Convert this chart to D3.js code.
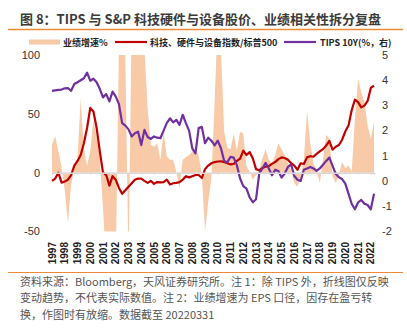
<!DOCTYPE html>
<html>
<head>
<meta charset="utf-8">
<script src="https://cdn.jsdelivr.net/npm/d3@7"></script>
<style>
  body { margin: 0; background: #fff; }
  text { font-family: "Noto Sans CJK SC", "Liberation Sans", sans-serif; }
  .num { font-family: "Liberation Sans", sans-serif; }
</style>
</head>
<body>
<script>
// quarterly points, 1997Q1 .. 2022Q1 (data to 20220331)
var startYear = 1997;
var years = d3.range(1997, 2023);
var leftTicks = [-50, 0, 50, 100];
var rightTicks = [-2, -1, 0, 1, 2, 3, 4, 5];

// 业绩增速% (left axis, clipped at -50/100)
var growth = [
    24, 31, 18, 5,
    -15, -43, -10, 5,
    12, 63, 20, 6,
    18, 45, 30, 11,
    -30, -80, -80, -80,
    -80, 110, 130, 100,
    -80, 130, 150, 150,
    140, 105, 55, 24,
    22, 25, 11, 35,
    14, 11, 11, 1,
    -13, 11, 13, 15,
    18, 19, 15, -2,
    -50, -25, -5, 60,
    130, 105, 35, 21,
    20, 33, 19, 35,
    33, 5, 1, -6,
    -2, 2, 12, 20,
    11, 8, 15, 25,
    20, 15, 8, 2,
    -9, -12, -3, 11,
    53, 25, 8, 2,
    -9, 11, 32, 29,
    -3, -9, -2, 9,
    4, 6, 1, 45,
    80, 68, 60, 40,
    29, 43
];

// 科技、硬件与设备指数/标普500 (left axis)
var techRel = [
    -7, -5, 0, -8.5,
    -7.5, -6, -2, 6,
    10, 15, 25, 38,
    55, 52, 38, 18,
    0, -2, -11, -3,
    -6, -13, -18, -15,
    -12, -9, -6, -5,
    -5, -7, -8.7, -7,
    -9.5, -8, -8.2, -8,
    -6, -10, -9, -8.7,
    -8, -6, -3, -4,
    -3, -2, -2, -4.5,
    3, 6, 8, 9,
    9.5, 9.7, 9, 8,
    7, 7.5, 10, 12,
    18.7, 15, 17.5, 12,
    3, 2, 4, 5,
    5.5, 7.5, 9, 11.5,
    13, 12.5, 11, 8,
    6, 2.5, 8, 7.4,
    13, 14, 13.5, 16,
    18, 20, 23, 27,
    19.5, 22, 23.5, 28,
    35, 40, 53, 62,
    60, 55.5, 57, 61,
    72, 74
];

// TIPS 10Y (%, right axis)
var tips = [
    3.58, 3.60, 3.62, 3.63,
    3.68, 3.69, 3.58, 3.85,
    3.92, 4.00, 4.08, 4.30,
    3.98, 4.06, 3.92, 3.65,
    3.32, 3.45, 3.16, 3.55,
    3.35, 3.05, 2.30, 2.20,
    2.05, 1.77, 1.90, 1.96,
    1.43, 2.03, 1.75, 1.67,
    1.77, 1.72, 1.70, 2.00,
    2.30, 2.49, 2.33, 2.43,
    2.23, 2.63, 2.30, 2.00,
    1.30, 1.10, 2.10, 2.15,
    1.50, 1.72, 1.60, 1.42,
    1.60, 1.30, 0.80, 0.75,
    0.96, 0.93, 0.62, 0.10,
    -0.20, -0.30, -0.65, -0.84,
    -0.72, 0.30, 0.50, 0.72,
    0.50, 0.23, 0.45, 0.40,
    0.14, 0.30, 0.56, 0.66,
    0.20, 0.05, 0.00, 0.45,
    0.50, 0.56, 0.50, 0.40,
    0.50, 0.65, 0.80, 0.93,
    0.60, 0.28, 0.15, 0.08,
    -0.10, -0.50, -0.90, -1.12,
    -0.85, -0.75, -0.90, -0.95,
    -1.12, -0.50
];

var W = 407, H = 328;
var svg = d3.select("body").append("svg")
    .attr("width", W)
    .attr("height", H);

// title
svg.append("text")
    .attr("x", 20)
    .attr("y", 24)
    .style("font-size", "13px")
    .style("font-weight", "bold")
    .style("fill", "#3b3b3b")
    .text("图 8：TIPS 与 S&P 科技硬件与设备股价、业绩相关性拆分复盘");

svg.append("line")
    .attr("x1", 8).attr("x2", 403)
    .attr("y1", 29.5).attr("y2", 29.5)
    .style("stroke", "#ee8a35")
    .style("stroke-width", 1.5);

var x = d3.scaleLinear().domain([1997, 2022.25]).range([52, 374]);
var yL = d3.scaleLinear().domain([-50, 100]).range([231.5, 55]);
var yR = d3.scaleLinear().domain([-2, 5]).range([231.5, 55]);

function t(i) { return startYear + i / 4; }

svg.append("clipPath").attr("id", "plot")
    .append("rect")
    .attr("x", 40).attr("y", yL(100))
    .attr("width", 340).attr("height", yL(-50) - yL(100));

var g = svg.append("g").attr("clip-path", "url(#plot)");

g.append("path")
    .datum(growth)
    .attr("d", d3.area()
        .x(function(d, i) { return x(t(i)); })
        .y0(yL(0))
        .y1(function(d) { return yL(d); }))
    .style("fill", "#f8caa8")
    .style("stroke", "none");

// zero axis with small year ticks
var xAxis = svg.append("g")
    .attr("transform", "translate(0," + yL(0) + ")")
    .call(d3.axisBottom(x).tickValues(years).tickSize(2).tickFormat(""));
xAxis.select(".domain").style("stroke", "#d9d9d9").style("stroke-width", 1.5);
xAxis.selectAll(".tick line").style("stroke", "#d9d9d9");

g.append("path")
    .datum(techRel)
    .attr("d", d3.line()
        .x(function(d, i) { return x(t(i)); })
        .y(function(d) { return yL(d); }))
    .style("fill", "none")
    .style("stroke", "#c00000")
    .style("stroke-width", 2.2)
    .style("stroke-linejoin", "round");

g.append("path")
    .datum(tips)
    .attr("d", d3.line()
        .x(function(d, i) { return x(t(i)); })
        .y(function(d) { return yR(d); }))
    .style("fill", "none")
    .style("stroke", "#7030a0")
    .style("stroke-width", 2.2)
    .style("stroke-linejoin", "round");

// left axis labels
svg.selectAll("text.yl")
    .data(leftTicks)
    .enter()
    .append("text")
    .attr("class", "yl num")
    .attr("x", 40)
    .attr("y", function(d) { return yL(d); })
    .attr("dy", "0.35em")
    .attr("text-anchor", "end")
    .style("font-size", "11px")
    .style("fill", "#333")
    .text(function(d) { return d; });

// right axis labels
svg.selectAll("text.yr")
    .data(rightTicks)
    .enter()
    .append("text")
    .attr("class", "yr num")
    .attr("x", 382)
    .attr("y", function(d) { return yR(d); })
    .attr("dy", "0.35em")
    .style("font-size", "11px")
    .style("fill", "#333")
    .text(function(d) { return d; });

// year labels, vertical
svg.selectAll("text.yr-lab")
    .data(years)
    .enter()
    .append("text")
    .attr("class", "yr-lab num")
    .attr("transform", function(d) { return "translate(" + x(d) + ",242) rotate(-90)"; })
    .attr("dy", "0.35em")
    .attr("text-anchor", "end")
    .style("font-size", "10px")
    .style("font-weight", "bold")
    .style("fill", "#222")
    .text(function(d) { return d; });

// legend
var leg = svg.append("g").style("font-size", "9px").style("font-weight", "bold");
leg.append("rect").attr("x", 29).attr("y", 39.5).attr("width", 31).attr("height", 5).style("fill", "#f8caa8");
leg.append("text").attr("x", 63).attr("y", 45.5).style("fill", "#222").text("业绩增速%");
leg.append("line").attr("x1", 115).attr("x2", 147).attr("y1", 42).attr("y2", 42)
    .style("stroke", "#c00000").style("stroke-width", 2.2);
leg.append("text").attr("x", 150).attr("y", 45.5).style("fill", "#222").text("科技、硬件与设备指数/标普500");
leg.append("line").attr("x1", 284).attr("x2", 316).attr("y1", 42).attr("y2", 42)
    .style("stroke", "#7030a0").style("stroke-width", 2.2);
leg.append("text").attr("x", 320).attr("y", 45.5).style("fill", "#222").text("TIPS 10Y(%，右)");

// footnote
svg.append("line")
    .attr("x1", 8).attr("x2", 403)
    .attr("y1", 272.5).attr("y2", 272.5)
    .style("stroke", "#ee8a35")
    .style("stroke-width", 1.2);

var notes = [
    "资料来源：Bloomberg，天风证券研究所。注 1：除 TIPS 外，折线图仅反映",
    "变动趋势，不代表实际数值。注 2：业绩增速为 EPS 口径，因存在盈亏转",
    "换，作图时有放缩。数据截至 20220331"
];
svg.selectAll("text.note")
    .data(notes)
    .enter()
    .append("text")
    .attr("class", "note")
    .attr("x", 20)
    .attr("y", function(d, i) { return 286 + i * 16.3; })
    .style("font-size", "11px")
    .style("fill", "#555")
    .text(function(d) { return d; });
</script>
</body>
</html>
